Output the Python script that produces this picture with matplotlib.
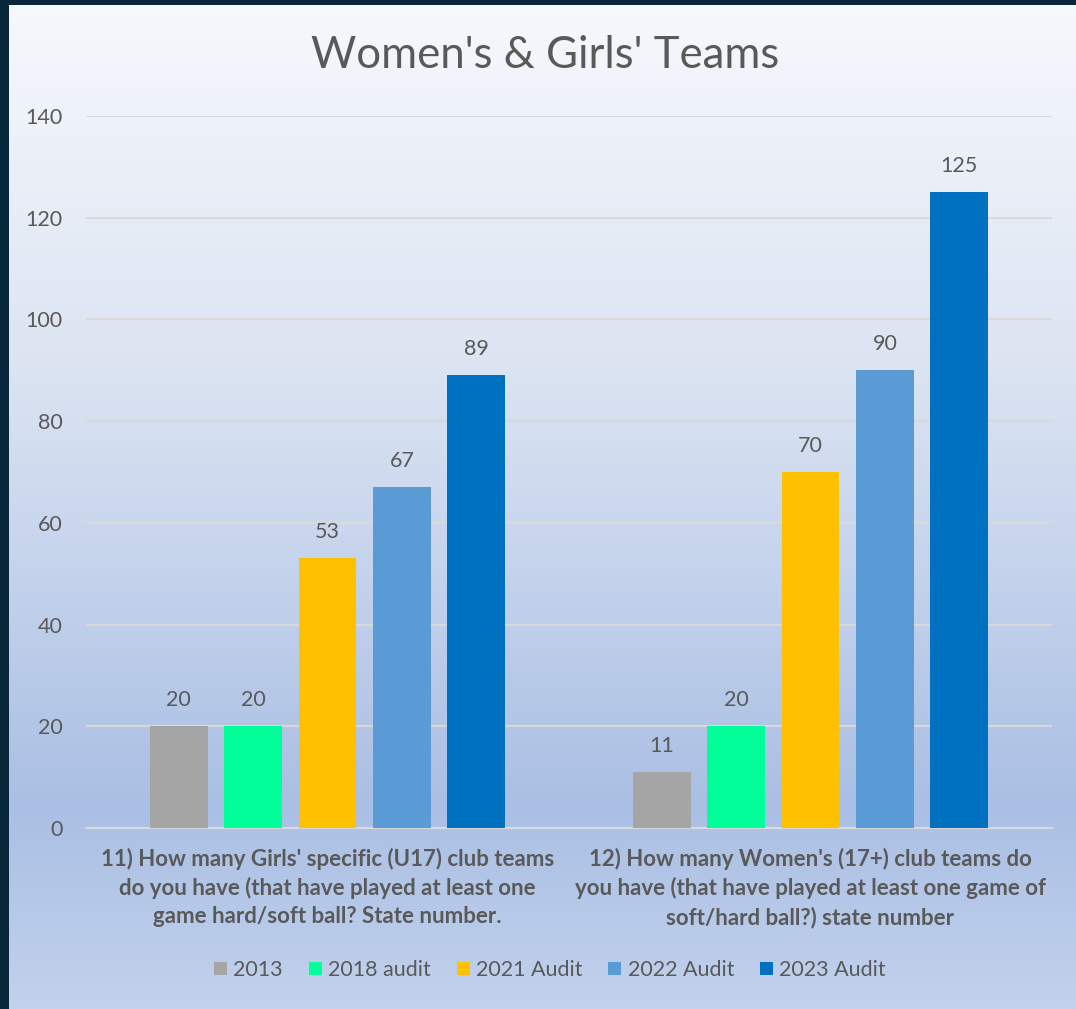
import numpy as np
import matplotlib
matplotlib.use("Agg")
import matplotlib.pyplot as plt
from matplotlib.colors import LinearSegmentedColormap

plt.rcParams["font.family"] = ["Lato", "DejaVu Sans"]

categories = [
    "11) How many Girls' specific (U17) club teams\ndo you have (that have played at least one\ngame hard/soft ball? State number.",
    "12) How many Women's (17+) club teams do\nyou have (that have played at least one game of\nsoft/hard ball?) state number",
]
series = ["2013", "2018 audit", "2021 Audit", "2022 Audit", "2023 Audit"]
values = [
    [20, 11],
    [20, 20],
    [53, 70],
    [67, 90],
    [89, 125],
]
colors = ["#A5A5A5", "#00FF99", "#FFC000", "#5B9BD5", "#0070C0"]
text_color = "#595959"

W, H = 1076, 1009
fig = plt.figure(figsize=(W / 100, H / 100), dpi=100)
fig.patch.set_facecolor("#08263A")

# gradient background panel
bg = fig.add_axes([9 / W, 0, 1 - 9 / W, 1 - 5 / H])
bg.set_axis_off()
cmap = LinearSegmentedColormap.from_list(
    "bg", [(0.0, "#F6F8FC"), (0.35, "#DDE5F3"), (0.8, "#AABFE4"), (1.0, "#C2D2ED")]
)
grad = np.linspace(0, 1, 256).reshape(-1, 1)
bg.imshow(grad, aspect="auto", cmap=cmap, extent=[0, 1, 0, 1], origin="upper")
bg.set_xlim(0, 1)
bg.set_ylim(0, 1)

ax = fig.add_axes([86 / W, 1 - 828 / H, (1052 - 86) / W, (828 - 116) / H])
ax.patch.set_alpha(0)

x = np.arange(len(categories))
step = 0.154
width = 0.12
for i, (name, vals, c) in enumerate(zip(series, values, colors)):
    pos = x + (i - 2) * step
    bars = ax.bar(pos, vals, width, color=c, label=name, zorder=3)
    for b, v in zip(bars, vals):
        ax.text(b.get_x() + b.get_width() / 2, v + 3.2, str(v), ha="center",
                va="bottom", fontsize=15.5, color=text_color)

ax.set_xlim(-0.5, 1.5)
ax.set_ylim(0, 140)
ax.set_yticks(range(0, 141, 20))
ax.tick_params(axis="y", length=0, labelsize=15.5, labelcolor=text_color, pad=17)
ax.tick_params(axis="x", length=0, pad=14)
ax.set_xticks(x)
ax.set_xticklabels(categories, fontsize=16, fontweight="bold", color=text_color,
                   linespacing=1.42)
ax.grid(axis="y", color="#D9D9D9", linewidth=1.5, zorder=0)
for s in ["top", "right", "left"]:
    ax.spines[s].set_visible(False)
ax.spines["bottom"].set_color("#D9D9D9")
ax.spines["bottom"].set_linewidth(1.5)

fig.text(545 / W, 1 - 55 / H, "Women's & Girls' Teams", ha="center", va="center",
         fontsize=31.5, color=text_color)

fig.legend(loc="center", bbox_to_anchor=(550 / W, 1 - 970 / H), ncol=5, frameon=False,
           fontsize=15.5, labelcolor=text_color, handlelength=0.6, handleheight=0.6,
           handletextpad=0.3, columnspacing=1.2)

fig.savefig("out.png", dpi=100, facecolor=fig.get_facecolor())
